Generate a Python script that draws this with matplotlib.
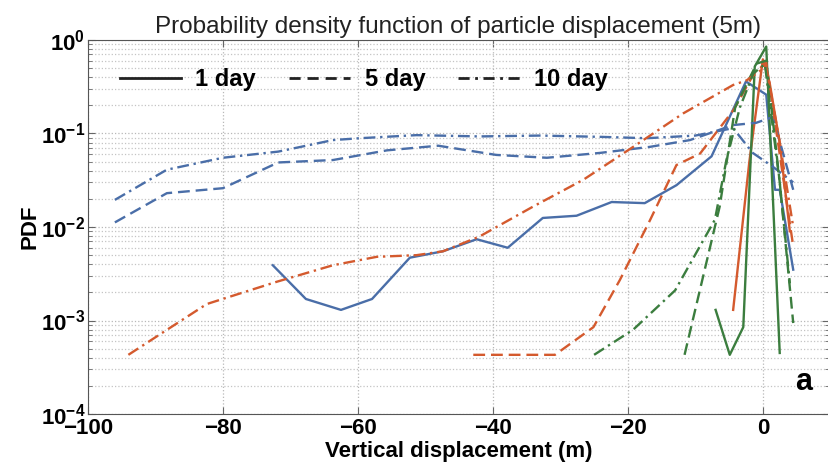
import numpy as np
import matplotlib
matplotlib.use('Agg')
from matplotlib import pyplot as plt
from matplotlib.lines import Line2D
from matplotlib.ticker import LogLocator, NullFormatter, FixedLocator

plt.rcParams['font.family'] = ['Liberation Sans', 'DejaVu Sans']
plt.rcParams['mathtext.fontset'] = 'custom'
plt.rcParams['mathtext.rm'] = 'Liberation Sans:bold'
plt.rcParams['mathtext.bf'] = 'Liberation Sans:bold'

# blue series
blue1_x = [-72.6, -67.7, -62.5, -57.9, -52.3, -47.4, -42.4, -37.8, -32.6, -27.6, -22.4, -17.5, -12.8, -7.6, -2.5, 0.5, 1.8, 2.5, 4.5]
blue1_y = [0.0039, 0.0017, 0.0013, 0.0017, 0.0047, 0.0055, 0.0074, 0.0060, 0.0125, 0.0132, 0.0185, 0.018, 0.028, 0.057, 0.36, 0.26, 0.025, 0.025, 0.0035]
blue5_x = [-96, -88.3, -80, -71.8, -63.7, -55.7, -48.1, -39.5, -32, -24.1, -16.7, -10.8, -4.4, -1.0, 1.5, 4.5]
blue5_y = [0.0112, 0.023, 0.026, 0.049, 0.052, 0.066, 0.074, 0.059, 0.055, 0.062, 0.072, 0.085, 0.123, 0.13, 0.15, 0.025]
blue10_x = [-96, -88.3, -80, -71.8, -63.7, -59.7, -51.3, -42, -33, -24, -17.2, -10, -4.4, -1.5, 1.5, 4.5]
blue10_y = [0.0195, 0.041, 0.055, 0.064, 0.085, 0.089, 0.096, 0.093, 0.095, 0.092, 0.089, 0.095, 0.114, 0.062, 0.044, 0.03]

# red series
red1_x = [-4.4, -2.0, 0.0, 1.0, 2.5, 4.0]
red1_y = [0.0013, 0.05, 0.62, 0.35, 0.08, 0.009]
red5_x = [-42.9, -30.8, -25.1, -21.2, -16.7, -12.8, -9.3, -4.3, -1.3, 0.5, 2.5, 4.5]
red5_y = [0.00043, 0.00043, 0.00085, 0.0027, 0.0119, 0.046, 0.061, 0.18, 0.44, 0.57, 0.06, 0.0062]
red10_x = [-94, -82.4, -72, -63.7, -57.2, -51.3, -47.4, -42, -34, -26.6, -19.2, -11.8, -4.4, -2.4, 0.5, 2.5, 4.5]
red10_y = [0.00043, 0.0015, 0.0026, 0.0039, 0.0048, 0.0050, 0.0055, 0.0079, 0.0166, 0.032, 0.072, 0.164, 0.33, 0.37, 0.52, 0.08, 0.01]

# green series
green1_x = [-7.0, -4.9, -2.9, -1.2, 0.5, 2.5]
green1_y = [0.0013, 0.00043, 0.00085, 0.52, 0.85, 0.00045]
green5_x = [-11.6, -6.4, -4.1, -0.9, 0.5, 2.5, 4.5]
green5_y = [0.00043, 0.0165, 0.19, 0.56, 0.6, 0.03, 0.00094]
green10_x = [-25, -19.2, -13, -7.1, -5.4, -3.4, -1.4, 0.3, 2.5, 4.0]
green10_y = [0.00043, 0.0008, 0.0021, 0.012, 0.052, 0.19, 0.44, 0.55, 0.03, 0.0025]

c_blue = '#4a6ea8'
c_red = '#d45a2e'
c_green = '#3b7d3e'

fig = plt.figure(figsize=(8.29, 4.70), dpi=100)
ax = fig.add_axes([0.106, 0.119, 0.894, 0.796])

lw = 1.7
dash = (5, 2.5)
ddot = (5, 2, 1, 2)
for xs, ys, c in [(blue1_x, blue1_y, c_blue), (red1_x, red1_y, c_red), (green1_x, green1_y, c_green)]:
    ax.plot(xs, ys, '-', color=c, lw=lw)
for xs, ys, c in [(blue5_x, blue5_y, c_blue), (red5_x, red5_y, c_red), (green5_x, green5_y, c_green)]:
    ax.plot(xs, ys, color=c, lw=lw, dashes=dash)
for xs, ys, c in [(blue10_x, blue10_y, c_blue), (red10_x, red10_y, c_red), (green10_x, green10_y, c_green)]:
    ax.plot(xs, ys, color=c, lw=lw, dashes=ddot)

ax.set_yscale('log')
ax.set_xlim(-100, 9.8)
ax.set_ylim(1e-4, 1)

ax.xaxis.set_major_locator(FixedLocator([-100, -80, -60, -40, -20, 0]))
ax.set_xticklabels(['\u2212100', '\u221280', '\u221260', '\u221240', '\u221220', '0'],
                   fontsize=16, fontweight='bold')
ax.yaxis.set_major_locator(FixedLocator([1e-4, 1e-3, 1e-2, 1e-1, 1]))
ax.set_yticklabels([r'$10^{-4}$', r'$10^{-3}$', r'$10^{-2}$', r'$10^{-1}$', r'$10^{0}$'],
                   fontsize=16)
ax.yaxis.set_minor_locator(LogLocator(base=10, subs=np.arange(2, 10)))
ax.yaxis.set_minor_formatter(NullFormatter())

ax.tick_params(which='both', direction='in', top=True, right=True, pad=2)
ax.tick_params(which='major', length=5, color='#666666')
ax.tick_params(which='minor', length=3, color='#666666')
ax.tick_params(axis='x', pad=3)

ax.grid(True, which='major', axis='both', linestyle=':', color='#b8b8b8', lw=0.9)
ax.grid(True, which='minor', axis='y', linestyle=':', color='#c4c4c4', lw=0.9)
ax.set_axisbelow(True)
for s in ax.spines.values():
    s.set_color('#555555')

ax.set_title('Probability density function of particle displacement (5m)',
             fontsize=17.5, pad=5, color='#222222')
ax.set_xlabel('Vertical displacement (m)', fontsize=16, fontweight='bold', labelpad=1)
ax.set_ylabel('PDF', fontsize=16, fontweight='bold', labelpad=0)

handles = [Line2D([], [], color='#222222', ls='-', lw=2),
           Line2D([], [], color='#222222', lw=2, dashes=(4, 2.5)),
           Line2D([], [], color='#222222', lw=2, dashes=(4, 2, 1, 2))]
ax.legend(handles, ['1 day', '5 day', '10 day'], ncol=3, frameon=False,
          loc='center left', bbox_to_anchor=(0.043, 0.893), borderaxespad=0,
          borderpad=0, handlelength=2.6, handletextpad=0.6,
          columnspacing=1.4, prop={'size': 17, 'weight': 'bold'})

ax.text(0.977, 0.045, 'a', transform=ax.transAxes, fontsize=22,
        fontweight='bold', ha='right', va='bottom')

fig.savefig('out.png', dpi=100)
